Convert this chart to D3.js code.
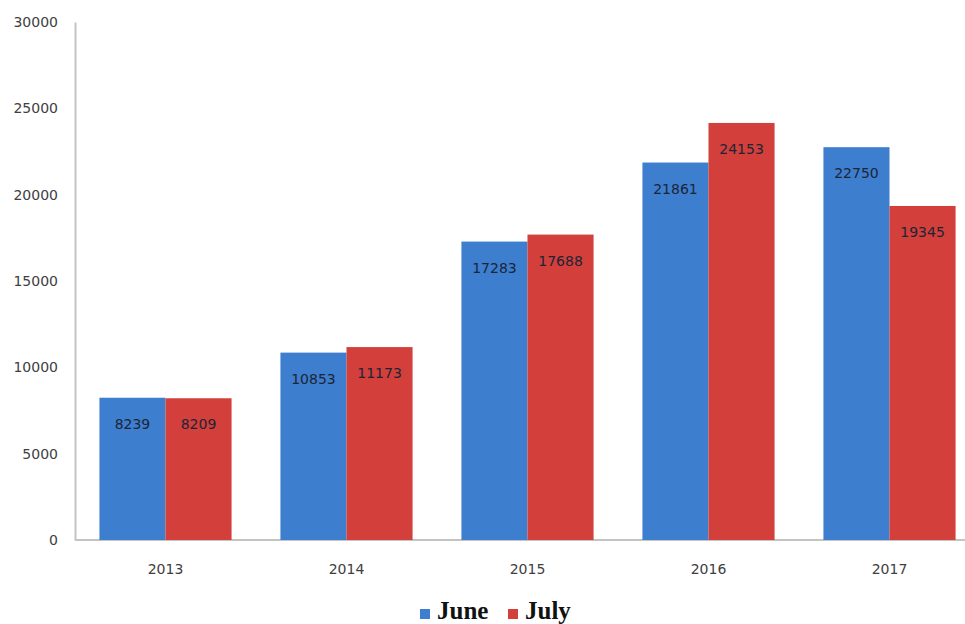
<!DOCTYPE html>
<html>
<head>
<meta charset="utf-8">
<script src="https://cdn.jsdelivr.net/npm/d3@7"></script>
<style>
  html, body { margin: 0; padding: 0; background: #fff; }
  svg { display: block; }
</style>
</head>
<body>
<svg id="chart" width="965" height="624"></svg>
<script>
const years = ["2013", "2014", "2015", "2016", "2017"];
const june = [8239, 10853, 17283, 21861, 22750];
const july = [8209, 11173, 17688, 24153, 19345];
const seriesNames = ["June", "July"];
const yTicks = [0, 5000, 10000, 15000, 20000, 25000, 30000];

const colors = { June: "#3d7ecf", July: "#d33f3b" };
const svg = d3.select("#chart");

const x = d3.scaleBand().domain(years).range([75, 980]).paddingInner(0.27).paddingOuter(0.135);
const xs = d3.scaleBand().domain(seriesNames).range([0, x.bandwidth()]);
const y = d3.scaleLinear().domain([0, 30000]).range([540, 22]);

const data = years.map((yr, i) => ({ year: yr, values: [{ s: "June", v: june[i] }, { s: "July", v: july[i] }] }));

// y axis
const yAxis = svg.append("g").attr("transform", "translate(75,0)")
  .call(d3.axisLeft(y).tickValues(yTicks).tickSize(0).tickPadding(17).tickFormat(d3.format("d")));
yAxis.select(".domain").attr("stroke", "#c4c4c4").attr("stroke-width", 2);
yAxis.selectAll("text").attr("font-family", "DejaVu Sans, sans-serif").attr("font-size", 14).attr("fill", "#404040");

// x axis baseline
const xAxis = svg.append("g").attr("transform", "translate(0,540)")
  .call(d3.axisBottom(x).tickSize(0).tickPadding(24));
xAxis.select(".domain").remove();
svg.append("line").attr("x1", 75).attr("x2", 965).attr("y1", 540).attr("y2", 540)
  .attr("stroke", "#c4c4c4").attr("stroke-width", 2);
xAxis.selectAll("text").attr("font-family", "DejaVu Sans, sans-serif").attr("font-size", 14).attr("fill", "#404040");

// bars
const groups = svg.append("g").selectAll("g").data(data).join("g")
  .attr("transform", d => `translate(${x(d.year)},0)`);
groups.selectAll("rect").data(d => d.values).join("rect")
  .attr("x", d => xs(d.s))
  .attr("y", d => y(d.v))
  .attr("width", xs.bandwidth())
  .attr("height", d => y(0) - y(d.v))
  .attr("fill", d => colors[d.s]);
groups.selectAll("text").data(d => d.values).join("text")
  .attr("x", d => xs(d.s) + xs.bandwidth() / 2)
  .attr("y", d => y(d.v) + 31)
  .attr("text-anchor", "middle")
  .attr("font-family", "DejaVu Sans, sans-serif")
  .attr("font-size", 14)
  .attr("fill", "#1b2536")
  .text(d => d.v);

// legend
const legendPos = [{ s: "June", sx: 420, tx: 437 }, { s: "July", sx: 508, tx: 525 }];
const lg = svg.append("g");
legendPos.forEach(p => {
  lg.append("rect").attr("x", p.sx).attr("y", 609).attr("width", 10).attr("height", 10).attr("fill", colors[p.s]);
  lg.append("text").attr("x", p.tx).attr("y", 619)
    .attr("font-family", "Liberation Serif, serif").attr("font-weight", "bold").attr("font-size", 25)
    .attr("fill", "#111").text(p.s);
});
</script>
</body>
</html>
